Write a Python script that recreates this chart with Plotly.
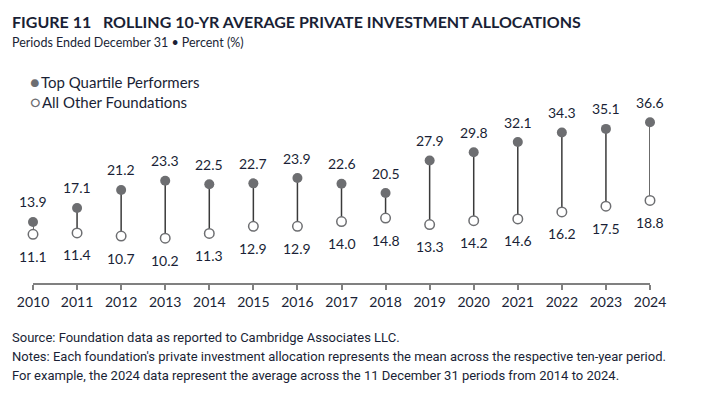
import plotly.graph_objects as go

years = [2010, 2011, 2012, 2013, 2014, 2015, 2016, 2017, 2018, 2019, 2020, 2021, 2022, 2023, 2024]
top_quartile = [13.9, 17.1, 21.2, 23.3, 22.5, 22.7, 23.9, 22.6, 20.5, 27.9, 29.8, 32.1, 34.3, 35.1, 36.6]
all_other = [11.1, 11.4, 10.7, 10.2, 11.3, 12.9, 12.9, 14.0, 14.8, 13.3, 14.2, 14.6, 16.2, 17.5, 18.8]
series_names = ["Top Quartile Performers", "All Other Foundations"]

TXT = "#1a1f36"
GRAY = "#6d6e71"
FONT = "Lato, 'Open Sans', sans-serif"
NARROW = "'Liberation Sans Narrow', 'Roboto', sans-serif"

fig = go.Figure()

# connector lines
lx, ly = [], []
for x, a, b in zip(years, top_quartile, all_other):
    lx += [x, x, None]
    ly += [a, b, None]
fig.add_trace(go.Scatter(x=lx, y=ly, mode="lines", line=dict(color="#3a3a3a", width=1.5),
                         showlegend=False, hoverinfo="skip", cliponaxis=False))

fig.add_trace(go.Scatter(x=years, y=top_quartile, mode="markers", name=series_names[0],
                         marker=dict(color=GRAY, size=10, line=dict(width=0)), cliponaxis=False,
                         showlegend=False))
fig.add_trace(go.Scatter(x=years, y=all_other, mode="markers", name=series_names[1],
                         marker=dict(color="white", size=9.5, line=dict(color=GRAY, width=1.5)), cliponaxis=False,
                         showlegend=False))

annotations = []
for x, a, b in zip(years, top_quartile, all_other):
    annotations.append(dict(x=x, y=a, text=f"{a:.1f}", showarrow=False, yshift=20,
                            font=dict(size=14, color=TXT, family=FONT)))
    annotations.append(dict(x=x, y=b, text=f"{b:.1f}", showarrow=False, yshift=-22,
                            font=dict(size=14, color=TXT, family=FONT)))

L, R, T, B = 33, 54, 60, 115
W, H = 704, 398
pw, ph = W - L - R, H - T - B

def px(x):
    return (x - L) / pw

def py(y):
    return (H - B - y) / ph

gap = "<span style='font-size:5px'> </span>"
annotations += [
    dict(xref="paper", yref="paper", x=px(10), y=py(22), xanchor="left", yanchor="middle",
         text="<b>FIGURE 11   ROLLING 10-YR AVERAGE PRIVATE INVESTMENT ALLOCATIONS</b>",
         showarrow=False, font=dict(size=16, color=TXT, family=FONT)),
    dict(xref="paper", yref="paper", x=px(10), y=py(42), xanchor="left", yanchor="middle",
         text="Periods Ended December 31 • Percent (%)",
         showarrow=False, font=dict(size=12.5, color=TXT, family=FONT)),
    # legend
    dict(xref="paper", yref="paper", x=px(28), y=py(81), xanchor="left", yanchor="middle",
         text=f"<span style='color:{GRAY};font-size:16px'>●</span>{gap}{series_names[0]}",
         showarrow=False, font=dict(size=15, color=TXT, family=FONT)),
    dict(xref="paper", yref="paper", x=px(28), y=py(101), xanchor="left", yanchor="middle",
         text=f"<span style='color:{GRAY};font-size:16px'>○</span>{gap}{series_names[1]}",
         showarrow=False, font=dict(size=15, color=TXT, family=FONT)),
    # footer
    dict(xref="paper", yref="paper", x=px(10), y=py(337), xanchor="left", yanchor="middle",
         text="Source: Foundation data as reported to Cambridge Associates LLC.",
         showarrow=False, font=dict(size=13, color=TXT, family=NARROW)),
    dict(xref="paper", yref="paper", x=px(10), y=py(356), xanchor="left", yanchor="middle",
         text="Notes: Each foundation's private investment allocation represents the mean across the respective ten-year period.",
         showarrow=False, font=dict(size=13, color=TXT, family=NARROW)),
    dict(xref="paper", yref="paper", x=px(10), y=py(375), xanchor="left", yanchor="middle",
         text="For example, the 2024 data represent the average across the 11 December 31 periods from 2014 to 2024.",
         showarrow=False, font=dict(size=13, color=TXT, family=NARROW)),
]

fig.update_layout(
    width=W, height=H,
    margin=dict(l=L, r=R, t=T, b=B, pad=0),
    paper_bgcolor="white", plot_bgcolor="white",
    font=dict(family=FONT, color=TXT),
    annotations=annotations,
    showlegend=False,
    hovermode=False,
    xaxis=dict(range=[2010, 2024], tickmode="array", tickvals=years, ticktext=[str(y) for y in years],
               showgrid=False, zeroline=False, showline=True, linecolor="#808080", linewidth=1.5,
               ticks="outside", ticklen=5, tickcolor="#808080", tickwidth=1.5,
               tickfont=dict(size=14, color=TXT, family=FONT), fixedrange=True),
    yaxis=dict(range=[0, ph / 4.39], visible=False, fixedrange=True),
)

fig.write_html("out.html", config={"displayModeBar": False},
               post_script="document.body.style.margin='0';")
